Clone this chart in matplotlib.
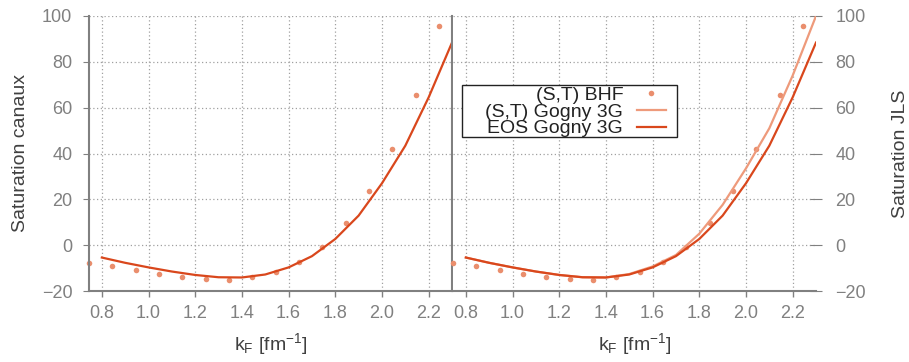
import numpy as np
import matplotlib
matplotlib.use("Agg")
import matplotlib.pyplot as plt
from matplotlib.patches import Rectangle

plt.rcParams['font.family'] = ['Liberation Sans', 'DejaVu Sans']
plt.rcParams['mathtext.fontset'] = 'custom'
plt.rcParams['mathtext.rm'] = 'Liberation Sans'
plt.rcParams['mathtext.it'] = 'Liberation Sans:italic'

# BHF points (S,T)
kf_bhf = [0.745, 0.845, 0.945, 1.045, 1.145, 1.245, 1.345, 1.445,
          1.545, 1.645, 1.745, 1.845, 1.945, 2.045, 2.145, 2.245]
sat_bhf = [-7.6, -9.2, -10.9, -12.5, -13.8, -14.7, -15.0, -14.1,
           -11.8, -7.4, -0.6, 9.5, 23.6, 41.9, 65.7, 95.5]

# Gogny 3G curves
kf_gogny = [0.8, 0.9, 1.0, 1.1, 1.2, 1.3, 1.4, 1.5,
            1.6, 1.7, 1.8, 1.9, 2.0, 2.1, 2.2, 2.3]
sat_eos = [-5.4, -7.7, -9.7, -11.5, -13.0, -14.0, -14.1, -12.8,
           -9.7, -4.8, 2.7, 12.9, 27.0, 43.4, 64.5, 88.4]
sat_st = [-5.4, -7.7, -9.7, -11.5, -13.0, -14.0, -14.1, -12.6,
          -9.3, -4.3, 5.0, 17.6, 33.5, 51.0, 74.0, 100.0]

xticks = [0.8, 1.0, 1.2, 1.4, 1.6, 1.8, 2.0, 2.2]
yticks = [-20, 0, 20, 40, 60, 80, 100]

c_pts = '#ea8e6d'
c_st = '#ee9a7b'
c_eos = '#d9471c'
c_axis = '#808080'
c_text = '#404040'

fig = plt.figure(figsize=(9.09, 3.62), dpi=100)
ax1 = fig.add_axes([89 / 909, 71 / 362, 363 / 909, 275 / 362])
ax2 = fig.add_axes([453 / 909, 71 / 362, 363 / 909, 275 / 362])

xlabel = r'$\mathregular{k_F\ [fm^{-1}]}$'

for ax in (ax1, ax2):
    ax.set_xlim(0.745, 2.3)
    ax.set_ylim(-20, 100)
    ax.set_xticks(xticks)
    ax.set_xticklabels([f"{t:.1f}" for t in xticks])
    ax.set_yticks(yticks)
    ax.grid(True, color='#a0a0a0', linestyle=(0, (1, 2)), linewidth=0.9)
    ax.tick_params(axis='x', direction='out', length=4, width=1, color=c_axis,
                   labelcolor=c_axis, labelsize=13, pad=6)
    ax.tick_params(axis='y', color=c_axis, labelcolor=c_axis, labelsize=13)
    ax.spines['top'].set_visible(False)
    ax.spines['bottom'].set_color(c_axis)
    ax.spines['bottom'].set_linewidth(1.5)
    ax.set_xlabel(xlabel, fontsize=14, color=c_text)
    ax.xaxis.set_label_coords(0.5, -0.145)

# left panel: channel saturation
ax1.plot(kf_bhf, sat_bhf, 'o', color=c_pts, ms=4, mec='none', clip_on=False)
ax1.plot(kf_gogny, sat_eos, '-', color=c_eos, lw=1.6)
ax1.spines['left'].set_color(c_axis)
ax1.spines['left'].set_linewidth(1.5)
ax1.spines['right'].set_color(c_axis)
ax1.spines['right'].set_linewidth(1.5)
ax1.tick_params(axis='y', direction='out', length=4, pad=8)
ax1.set_ylabel('Saturation canaux', fontsize=14, color=c_text)
ax1.yaxis.set_label_coords(-0.165, 0.5)

# right panel: JLS saturation
ax2.plot(kf_bhf, sat_bhf, 'o', color=c_pts, ms=4, mec='none', clip_on=False,
         label='(S,T) BHF')
ax2.plot(kf_gogny, sat_st, '-', color=c_st, lw=1.6, label='(S,T) Gogny 3G')
ax2.plot(kf_gogny, sat_eos, '-', color=c_eos, lw=1.6, label='EOS Gogny 3G')
ax2.spines['left'].set_visible(False)
ax2.spines['right'].set_visible(False)
ax2.yaxis.tick_right()
ax2.yaxis.set_label_position('right')
ax2.tick_params(axis='y', direction='inout', length=8, pad=10)
ax2.set_ylabel('Saturation JLS', fontsize=14, color=c_text)
ax2.yaxis.set_label_coords(1.2085, 0.5)

# legend box (gnuplot style, text right-aligned, sample on the right)
box = Rectangle((9 / 363, (291 - 137) / 275), 215 / 363, 52 / 275,
                transform=ax2.transAxes, facecolor='white', edgecolor='#222222',
                linewidth=1.0, zorder=4.5, clip_on=False)
ax2.add_patch(box)
leg = ax2.legend(loc='upper right', bbox_to_anchor=(213 / 363, (291 - 86.5) / 275),
                 borderaxespad=0, markerfirst=False, fontsize=14, labelspacing=-0.05,
                 handlelength=1.5, handletextpad=0.7, borderpad=0.0,
                 frameon=False)
for t in leg.get_texts():
    t.set_color('#222222')

plt.savefig("out.png", dpi=100)
plt.close()
